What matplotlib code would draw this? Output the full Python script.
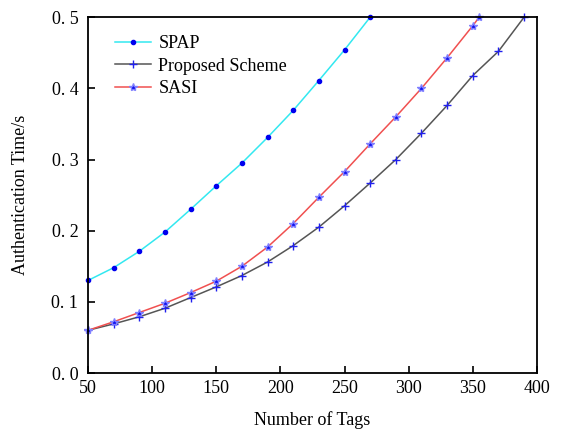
import matplotlib.pyplot as plt

plt.rcParams["font.family"] = ["Liberation Serif", "DejaVu Serif"]

spap_x = [50, 70, 90, 110, 130, 150, 170, 190, 210, 230, 250, 270]
spap_y = [0.130, 0.148, 0.171, 0.198, 0.230, 0.263, 0.295, 0.331, 0.369, 0.411, 0.454, 0.500]

prop_x = [50, 70, 90, 110, 130, 150, 170, 190, 210, 230, 250, 270, 290, 310, 330, 350, 370, 390]
prop_y = [0.060, 0.069, 0.079, 0.091, 0.106, 0.121, 0.137, 0.156, 0.179, 0.205, 0.235, 0.267,
          0.300, 0.337, 0.376, 0.418, 0.452, 0.500]

sasi_x = [50, 70, 90, 110, 130, 150, 170, 190, 210, 230, 250, 270, 290, 310, 330, 350, 355]
sasi_y = [0.060, 0.072, 0.085, 0.098, 0.113, 0.129, 0.150, 0.177, 0.210, 0.247, 0.283, 0.322,
          0.360, 0.400, 0.443, 0.488, 0.500]

fig = plt.figure(figsize=(5.64, 4.29), dpi=100)
ax = fig.add_axes([0.156, 0.1305, 0.796, 0.8295])

ax.plot(spap_x, spap_y, color="#33e8f0", lw=1.1, marker=".", ms=6,
        mfc="#0000ee", mec="#0000ee", label="SPAP", clip_on=False)
ax.plot(prop_x, prop_y, color="#555555", lw=1.1, marker="+", ms=6, mew=1,
        mfc="#2020ee", mec="#2020ee", label="Proposed Scheme", clip_on=False)
ax.plot(sasi_x, sasi_y, color="#f05050", lw=1.1, marker="*", ms=6,
        mfc="#1010ee", mec="#8080ff", label="SASI", clip_on=False)

ax.set_xlim(50, 400)
ax.set_ylim(0, 0.5)
ax.set_xticks([50, 100, 150, 200, 250, 300, 350, 400])
ax.set_yticks([0.0, 0.1, 0.2, 0.3, 0.4, 0.5])
ax.set_yticklabels(["0. 0", "0. 1", "0. 2", "0. 3", "0. 4", "0. 5"])
ax.tick_params(direction="in", labelsize=13, width=1.2, length=5)
ax.tick_params(axis="y", pad=7)
ax.tick_params(axis="x", pad=5)
for s in ax.spines.values():
    s.set_linewidth(1.3)

ax.set_xlabel("Number of Tags", fontsize=13, labelpad=10)
ax.set_ylabel("Authentication Time/s", fontsize=13, labelpad=16)
ax.legend(loc="upper left", frameon=False, fontsize=13, handlelength=2.0,
          handletextpad=0.4, labelspacing=0.3, borderaxespad=0.6,
          bbox_to_anchor=(0.02, 1.0))

fig.savefig("out.png", dpi=100)
